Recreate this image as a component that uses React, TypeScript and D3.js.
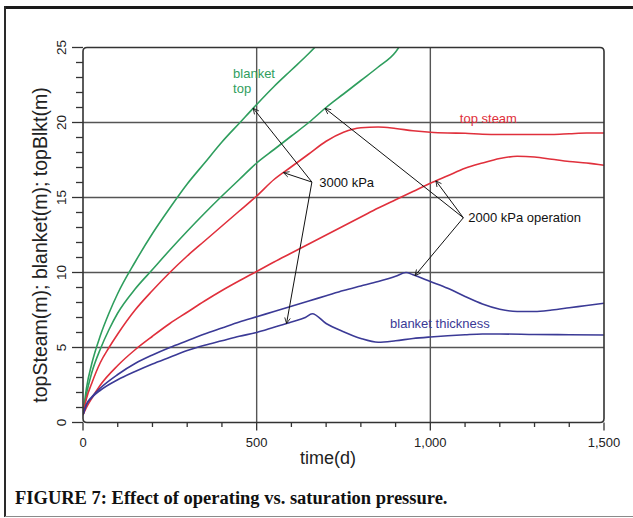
import React from "react";
import * as d3 from "d3";

// ---- data: time (days) and heights (m) ----
const blanketTop3000T = [0, 10, 25, 50, 75, 100, 150, 200, 250, 300, 350, 400, 450, 500, 550, 600, 650, 700];
const blanketTop3000V = [0.5, 2.3, 3.9, 5.8, 7.3, 8.6, 10.7, 12.6, 14.3, 15.9, 17.3, 18.7, 19.95, 21.2, 22.4, 23.5, 24.6, 25.8];

const blanketTop2000T = [0, 10, 25, 50, 75, 100, 150, 200, 250, 300, 350, 400, 450, 500, 550, 600, 650, 700, 750, 800, 850, 900, 930];
const blanketTop2000V = [0.5, 1.9, 3.3, 4.9, 6.2, 7.3, 8.9, 10.2, 11.5, 12.75, 13.95, 15.1, 16.2, 17.3, 18.2, 19.1, 20.0, 21.0, 21.9, 22.8, 23.7, 24.7, 25.8];

const topSteam3000T = [0, 10, 25, 50, 75, 100, 150, 200, 250, 300, 350, 400, 450, 500, 550, 600, 650, 700, 750, 800, 850, 900, 950, 1000, 1050, 1100, 1150, 1200, 1250, 1300, 1350, 1400, 1450, 1500];
const topSteam3000V = [0.5, 1.6, 2.6, 4.0, 5.0, 5.9, 7.5, 8.8, 10.0, 11.1, 12.1, 13.1, 14.1, 15.1, 16.2, 17.05, 17.9, 18.75, 19.35, 19.65, 19.7, 19.6, 19.45, 19.35, 19.3, 19.28, 19.22, 19.2, 19.2, 19.2, 19.2, 19.25, 19.3, 19.3];

const topSteam2000T = [0, 10, 25, 50, 100, 150, 200, 250, 300, 350, 400, 450, 500, 550, 600, 650, 700, 750, 800, 850, 900, 950, 1000, 1050, 1100, 1150, 1200, 1250, 1300, 1350, 1400, 1450, 1500];
const topSteam2000V = [0.5, 1.0, 1.6, 2.5, 3.8, 4.85, 5.75, 6.6, 7.35, 8.1, 8.8, 9.45, 10.07, 10.7, 11.3, 11.9, 12.5, 13.1, 13.7, 14.3, 14.85, 15.4, 15.95, 16.45, 16.95, 17.3, 17.6, 17.75, 17.7, 17.55, 17.4, 17.3, 17.15];

const thickness2000T = [0, 10, 25, 50, 100, 150, 200, 250, 300, 350, 400, 450, 500, 550, 600, 650, 700, 750, 800, 850, 900, 930, 950, 1000, 1050, 1100, 1150, 1200, 1250, 1300, 1350, 1400, 1450, 1500];
const thickness2000V = [0.5, 1.2, 1.7, 2.3, 3.2, 3.93, 4.5, 5.0, 5.45, 5.9, 6.3, 6.7, 7.05, 7.4, 7.75, 8.1, 8.45, 8.8, 9.1, 9.4, 9.75, 10.0, 9.85, 9.4, 8.95, 8.4, 7.9, 7.55, 7.4, 7.4, 7.5, 7.65, 7.8, 7.95];

const thickness3000T = [0, 10, 25, 50, 100, 150, 200, 250, 300, 350, 400, 450, 500, 550, 600, 640, 660, 700, 750, 800, 850, 900, 950, 1000, 1050, 1100, 1150, 1200, 1300, 1400, 1500];
const thickness3000V = [0.5, 1.2, 1.65, 2.15, 2.85, 3.4, 3.9, 4.35, 4.8, 5.15, 5.45, 5.75, 6.0, 6.35, 6.7, 7.0, 7.25, 6.6, 6.05, 5.6, 5.35, 5.45, 5.6, 5.7, 5.78, 5.85, 5.9, 5.9, 5.87, 5.85, 5.83];

const xTicks = [0, 500, 1000, 1500];
const xTickLabels = ["0", "500", "1,000", "1,500"];
const yTicks = [0, 5, 10, 15, 20, 25];

const GREEN = "#2f9e5e";
const RED = "#e0303c";
const BLUE = "#3b3a96";

const W = 633;
const H = 518;

const x = d3.scaleLinear().domain([0, 1500]).range([83, 604]);
const y = d3.scaleLinear().domain([0, 25]).range([422.5, 47.5]);

type Series = { t: number[]; v: number[]; color: string };
const series: Record<string, Series> = {
  top3000: { t: blanketTop3000T, v: blanketTop3000V, color: GREEN },
  top2000: { t: blanketTop2000T, v: blanketTop2000V, color: GREEN },
  steam3000: { t: topSteam3000T, v: topSteam3000V, color: RED },
  steam2000: { t: topSteam2000T, v: topSteam2000V, color: RED },
  thick2000: { t: thickness2000T, v: thickness2000V, color: BLUE },
  thick3000: { t: thickness3000T, v: thickness3000V, color: BLUE },
};

// value of a series at time t (linear between samples)
function valueAt(s: Series, t: number): number {
  const i = d3.bisectLeft(s.t, t);
  if (i <= 0) return s.v[0];
  if (i >= s.t.length) return s.v[s.v.length - 1];
  const t0 = s.t[i - 1], t1 = s.t[i];
  const k = (t - t0) / (t1 - t0);
  return s.v[i - 1] + k * (s.v[i] - s.v[i - 1]);
}

// annotation callouts: label anchor in data units, arrow tips on curves
const calloutGroups = [
  {
    label: "3000 kPa",
    anchor: [659, 16.03],
    text: [680, 15.67],
    tips: [
      { key: "top3000", t: 490 },
      { key: "steam3000", t: 577 },
      { key: "thick3000", t: 586 },
    ],
  },
  {
    label: "2000 kPa operation",
    anchor: [1095, 13.65],
    text: [1109, 13.35],
    tips: [
      { key: "top2000", t: 697 },
      { key: "steam2000", t: 1016 },
      { key: "thick2000", t: 956 },
    ],
  },
];

const curveLabels = [
  { lines: ["blanket", "top"], t: 432, v: 23.0, color: GREEN },
  { lines: ["top steam"], t: 1085, v: 19.98, color: RED },
  { lines: ["blanket thickness"], t: 884, v: 6.31, color: BLUE },
];

const SANS = "'Liberation Sans', Arial, Helvetica, sans-serif";

export default function App() {
  const line = d3
    .line<[number, number]>()
    .x((d) => x(d[0]))
    .y((d) => y(d[1]))
    .curve(d3.curveMonotoneX);

  const [x0, x1] = x.range();
  const [y0, y1] = y.range(); // y0 bottom, y1 top
  const r = 4;
  const boxPath = `M${x0},${y1 + r} Q${x0},${y1} ${x0 + r},${y1} L${x1 - r},${y1} Q${x1},${y1} ${x1},${y1 + r} L${x1},${y0 - r} Q${x1},${y0} ${x1 - r},${y0} L${x0 + r},${y0} Q${x0},${y0} ${x0},${y0 - r} Z`;

  const xMinor = d3.range(0, 1501, 100);
  const yMinor = d3.range(0, 26, 1);

  return (
    <svg
      width={W}
      height={H}
      viewBox={`0 0 ${W} ${H}`}
      style={{ position: "absolute", left: 0, top: 0, background: "#fff" }}
    >
      <defs>
        <clipPath id="plotClip">
          <rect x={x0} y={y1} width={x1 - x0} height={y0 - y1} />
        </clipPath>
        <marker
          id="openArrow"
          viewBox="-8 -5 10 10"
          refX={0}
          refY={0}
          markerWidth={8}
          markerHeight={8}
          markerUnits="userSpaceOnUse"
          orient="auto"
        >
          <path d="M-7,-3.5 L0,0 L-7,3.5" fill="none" stroke="#111" strokeWidth={1} />
        </marker>
      </defs>

      {/* outer frame */}
      <line x1={5} y1={7.5} x2={W} y2={7.5} stroke="#1a1a1a" strokeWidth={3} />
      <line x1={5} y1={6} x2={5} y2={517} stroke="#2a2a2a" strokeWidth={2} />
      <line x1={5} y1={516.5} x2={W} y2={516.5} stroke="#8a8a8a" strokeWidth={1.2} />

      {/* grid */}
      {yTicks.slice(1, -1).map((v) => (
        <line key={`gy${v}`} x1={x0} x2={x1} y1={y(v)} y2={y(v)} stroke="#555" strokeWidth={1.4} />
      ))}
      {xTicks.slice(1, -1).map((t) => (
        <line key={`gx${t}`} x1={x(t)} x2={x(t)} y1={y1} y2={y0} stroke="#555" strokeWidth={1.4} />
      ))}

      {/* curves */}
      <g clipPath="url(#plotClip)">
        {Object.entries(series).map(([k, s]) => (
          <path
            key={k}
            d={line(s.t.map((t, i) => [t, s.v[i]] as [number, number])) || ""}
            fill="none"
            stroke={s.color}
            strokeWidth={1.6}
            strokeLinejoin="round"
          />
        ))}
      </g>

      {/* plot box */}
      <path d={boxPath} fill="none" stroke="#333" strokeWidth={1.6} />

      {/* y ticks */}
      {yMinor.map((v) => (
        <line
          key={`yt${v}`}
          x1={v % 5 === 0 ? x0 - 11 : x0 - 7}
          x2={x0}
          y1={y(v)}
          y2={y(v)}
          stroke="#333"
          strokeWidth={1.3}
        />
      ))}
      {yTicks.map((v) => (
        <text
          key={`yl${v}`}
          transform={`translate(61,${y(v)}) rotate(-90)`}
          textAnchor="middle"
          dominantBaseline="central"
          fontFamily={SANS}
          fontSize={13.5}
          fill="#222"
        >
          {v}
        </text>
      ))}

      {/* x ticks */}
      {xMinor.map((t) => (
        <line
          key={`xt${t}`}
          x1={x(t)}
          x2={x(t)}
          y1={y0}
          y2={t % 500 === 0 ? y0 + 8 : y0 + 4.5}
          stroke="#333"
          strokeWidth={1.3}
        />
      ))}
      {xTicks.map((t, i) => (
        <text
          key={`xl${t}`}
          x={x(t)}
          y={446.5}
          textAnchor="middle"
          fontFamily={SANS}
          fontSize={13}
          fill="#222"
        >
          {xTickLabels[i]}
        </text>
      ))}

      {/* axis titles */}
      <text x={328} y={464} textAnchor="middle" fontFamily={SANS} fontSize={18} fill="#222">
        time(d)
      </text>
      <text
        transform={`translate(40,245) rotate(-90)`}
        textAnchor="middle"
        dominantBaseline="central"
        fontFamily={SANS}
        fontSize={19.5}
        fill="#222"
      >
        topSteam(m); blanket(m); topBlkt(m)
      </text>

      {/* curve labels */}
      {curveLabels.map((c, i) => (
        <text key={`cl${i}`} fontFamily={SANS} fontSize={13} fill={c.color}>
          {c.lines.map((ln, j) => (
            <tspan key={j} x={x(c.t)} y={y(c.v) + j * 15.5}>
              {ln}
            </tspan>
          ))}
        </text>
      ))}

      {/* callouts */}
      {calloutGroups.map((g, gi) => (
        <g key={`cg${gi}`}>
          {g.tips.map((tp, ti) => {
            const s = series[tp.key];
            return (
              <line
                key={ti}
                x1={x(g.anchor[0])}
                y1={y(g.anchor[1])}
                x2={x(tp.t)}
                y2={y(valueAt(s, tp.t))}
                stroke="#111"
                strokeWidth={1}
                markerEnd="url(#openArrow)"
              />
            );
          })}
          <text x={x(g.text[0])} y={y(g.text[1])} fontFamily={SANS} fontSize={13} fill="#111">
            {g.label}
          </text>
        </g>
      ))}

      {/* caption */}
      <text
        x={15}
        y={504}
        fontFamily="'Liberation Serif', 'Times New Roman', serif"
        fontWeight="bold"
        fontSize={18.5}
        fill="#111"
      >
        FIGURE 7: Effect of operating vs. saturation pressure.
      </text>
    </svg>
  );
}
